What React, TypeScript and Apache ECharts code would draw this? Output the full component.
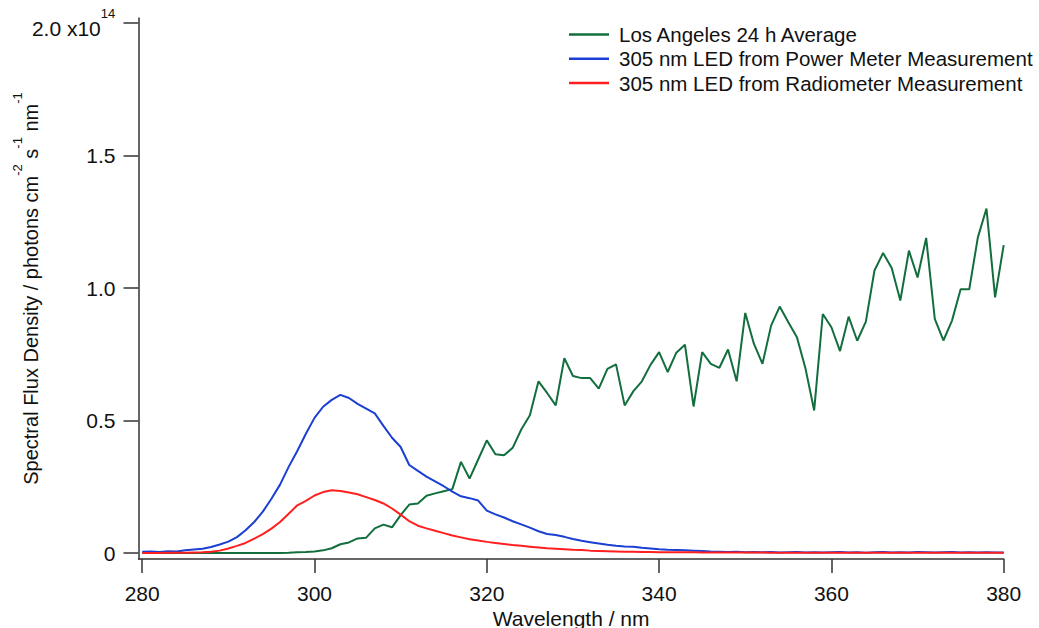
import React, { useEffect, useRef } from "react";
import * as echarts from "echarts";

const wavelengths: number[] = [];
for (let w = 280; w <= 380; w++) wavelengths.push(w);

// Values in units of 1e14 photons cm^-2 s^-1 nm^-1
const laAverage = [
  0, 0, 0, 0, 0, 0, 0, 0, 0, 0,
  0, 0, 0, 0, 0, 0, 0, 0.001, 0.003, 0.004,
  0.006, 0.010, 0.018, 0.033, 0.040, 0.055, 0.058, 0.093, 0.107, 0.097,
  0.143, 0.183, 0.187, 0.216, 0.225, 0.233, 0.241, 0.344, 0.281, 0.353,
  0.425, 0.373, 0.369, 0.397, 0.466, 0.520, 0.648, 0.604, 0.557, 0.735,
  0.668, 0.660, 0.660, 0.620, 0.695, 0.712, 0.557, 0.610, 0.648, 0.710,
  0.758, 0.683, 0.756, 0.786, 0.553, 0.758, 0.714, 0.699, 0.768, 0.648,
  0.906, 0.790, 0.714, 0.858, 0.930, 0.871, 0.814, 0.695, 0.538, 0.902,
  0.852, 0.762, 0.892, 0.801, 0.873, 1.066, 1.132, 1.076, 0.953, 1.141,
  1.040, 1.189, 0.884, 0.802, 0.877, 0.995, 0.995, 1.191, 1.300, 0.965,
  1.162,
];

const powerMeter = [
  0.005, 0.006, 0.004, 0.007, 0.006, 0.010, 0.013, 0.016, 0.023, 0.032,
  0.043, 0.060, 0.086, 0.117, 0.156, 0.205, 0.258, 0.325, 0.385, 0.450,
  0.510, 0.552, 0.578, 0.597, 0.585, 0.563, 0.545, 0.527, 0.480, 0.435,
  0.400, 0.332, 0.310, 0.288, 0.270, 0.252, 0.232, 0.214, 0.207, 0.198,
  0.160, 0.146, 0.134, 0.120, 0.108, 0.096, 0.082, 0.072, 0.068, 0.061,
  0.053, 0.046, 0.041, 0.036, 0.031, 0.027, 0.025, 0.024, 0.020, 0.017,
  0.014, 0.012, 0.011, 0.010, 0.009, 0.008, 0.006, 0.005, 0.004, 0.005,
  0.003, 0.004, 0.003, 0.004, 0.002, 0.003, 0.004, 0.002, 0.003, 0.002,
  0.003, 0.004, 0.002, 0.003, 0.001, 0.003, 0.004, 0.002, 0.003, 0.002,
  0.004, 0.003, 0.002, 0.003, 0.004, 0.002, 0.003, 0.002, 0.003, 0.002,
  0.002,
];

const radiometer = [
  0.000, 0.000, 0.000, 0.001, 0.001, 0.001, 0.002, 0.003, 0.005, 0.009,
  0.017, 0.027, 0.038, 0.054, 0.071, 0.092, 0.117, 0.148, 0.180, 0.197,
  0.217, 0.230, 0.237, 0.234, 0.228, 0.222, 0.211, 0.200, 0.187, 0.168,
  0.145, 0.120, 0.103, 0.093, 0.084, 0.075, 0.066, 0.059, 0.052, 0.047,
  0.042, 0.038, 0.034, 0.030, 0.027, 0.024, 0.021, 0.018, 0.016, 0.014,
  0.012, 0.011, 0.009, 0.008, 0.007, 0.006, 0.005, 0.005, 0.004, 0.004,
  0.003, 0.003, 0.003, 0.003, 0.003, 0.002, 0.002, 0.002, 0.002, 0.002,
  0.002, 0.002, 0.002, 0.001, 0.001, 0.001, 0.001, 0.001, 0.001, 0.001,
  0.001, 0.001, 0.001, 0.001, 0.001, 0.001, 0.001, 0.001, 0.001, 0.001,
  0.001, 0.001, 0.001, 0.001, 0.001, 0.001, 0.001, 0.001, 0.001, 0.001,
  0.001,
];

const seriesNames = [
  "Los Angeles 24 h Average",
  "305 nm LED from Power Meter Measurement",
  "305 nm LED from Radiometer Measurement",
];
const seriesColors = ["#136e3e", "#1a3fd2", "#ff1f1f"];
const xTicks = [280, 300, 320, 340, 360, 380];
const yTicks = [0, 0.5, 1.0, 1.5, 2.0];

const FONT = 'Arial, "Liberation Sans", Helvetica, sans-serif';

export default function App() {
  const ref = useRef<HTMLDivElement>(null);
  useEffect(() => {
    if (!ref.current) return;
    const chart = echarts.init(ref.current, undefined, { renderer: "svg" });
    const allSeries = [laAverage, powerMeter, radiometer];
    chart.setOption({
      animation: false,
      backgroundColor: "#ffffff",
      textStyle: { fontFamily: FONT },
      grid: {
        left: 138.5,
        right: 35.3,
        top: 18,
        bottom: 69,
        containLabel: false,
        outerBoundsMode: "none",
      },
      legend: {
        orient: "vertical",
        left: 564,
        top: 19,
        icon: "rect",
        itemWidth: 40,
        itemHeight: 2.5,
        itemGap: 3.3,
        data: seriesNames,
        textStyle: {
          fontSize: 20.5,
          lineHeight: 20,
          color: "#111",
          fontFamily: FONT,
          padding: [0, 0, 0, 5],
        },
      },
      xAxis: {
        type: "value",
        min: 279.57,
        max: 380,
        name: "Wavelength / nm",
        nameLocation: "middle",
        nameGap: 49,
        nameMoveOverlap: false,
        nameTextStyle: { fontSize: 21, color: "#111", fontFamily: FONT },
        axisLine: { show: true, onZero: false, lineStyle: { color: "#333", width: 1.5 } },
        axisTick: {
          show: true,
          inside: false,
          length: 14,
          customValues: xTicks,
          lineStyle: { color: "#333", width: 1.5 },
        },
        axisLabel: { customValues: xTicks, fontSize: 21, color: "#111", margin: 24, fontFamily: FONT },
        splitLine: { show: false },
      },
      yAxis: {
        type: "value",
        min: -0.0226,
        max: 2.019,
        name: "{a|Spectral Flux Density / photons cm}{s|-2}{a| s}{s|-1}{a| nm}{s|-1}",
        nameLocation: "middle",
        nameGap: 98,
        nameRotate: 90,
        nameMoveOverlap: false,
        nameTextStyle: {
          fontFamily: FONT,
          rich: {
            a: { fontSize: 20, color: "#111", fontFamily: FONT, lineHeight: 30, verticalAlign: "bottom" },
            s: { fontSize: 13, color: "#111", fontFamily: FONT, lineHeight: 16, verticalAlign: "top" },
          },
        },
        axisLine: { show: true, onZero: false, lineStyle: { color: "#333", width: 1.5 } },
        axisTick: {
          show: true,
          inside: false,
          length: 15,
          customValues: yTicks,
          lineStyle: { color: "#333", width: 1.5 },
        },
        axisLabel: {
          customValues: yTicks,
          margin: 23,
          fontSize: 21,
          color: "#111",
          fontFamily: FONT,
          formatter: (v: number) => {
            if (Math.abs(v) < 1e-9) return "0";
            if (Math.abs(v - 2) < 1e-9) return "{b|2.0 x10}{s|14}{t| }";
            return v.toFixed(1);
          },
          rich: {
            b: { fontSize: 21, color: "#111", fontFamily: FONT, lineHeight: 22, verticalAlign: "bottom" },
            s: { fontSize: 13, color: "#111", fontFamily: FONT, lineHeight: 22, verticalAlign: "top" },
            t: { fontSize: 1, lineHeight: 32 },
          },
        },
        splitLine: { show: false },
      },
      series: allSeries.map((vals, i) => ({
        name: seriesNames[i],
        type: "line",
        symbol: "none",
        showSymbol: false,
        lineStyle: { color: seriesColors[i], width: 2 },
        itemStyle: { color: seriesColors[i] },
        data: wavelengths.map((w, j) => [w, vals[j]]),
        z: 2 + i,
      })),
    });
    return () => chart.dispose();
  }, []);
  return (
    <div
      ref={ref}
      style={{ position: "fixed", left: 0, top: 0, width: 1039, height: 628, background: "#fff" }}
    />
  );
}
